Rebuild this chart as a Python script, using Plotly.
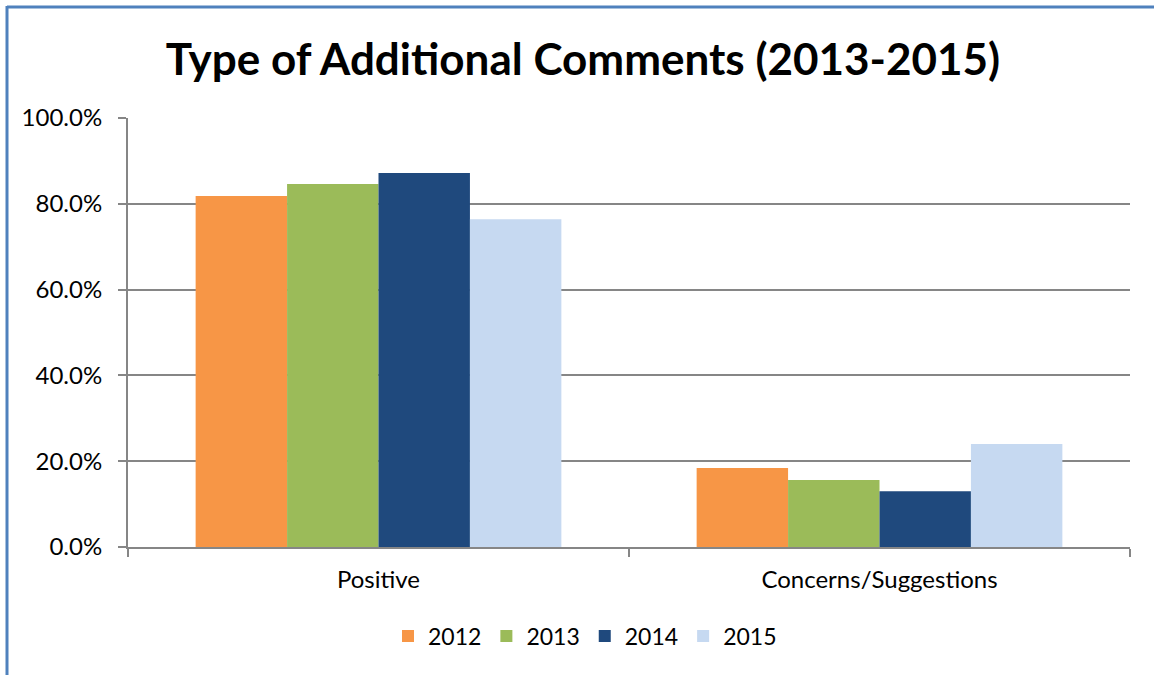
import plotly.graph_objects as go

categories = ["Positive", "Concerns/Suggestions"]
years = ["2012", "2013", "2014", "2015"]
values_2012 = [81.8, 18.4]
values_2013 = [84.6, 15.6]
values_2014 = [87.2, 13.0]
values_2015 = [76.4, 24.0]
y_ticks = [0, 20, 40, 60, 80, 100]
y_tick_labels = ["0.0%", "20.0%", "40.0%", "60.0%", "80.0%", "100.0%"]

series = [values_2012, values_2013, values_2014, values_2015]
colors = ["#F79646", "#9BBB59", "#1F497D", "#C6D9F1"]

W, H = 1154, 675
L, R, T, B = 128, 24, 118, 128
FONT = "Lato, 'Open Sans', sans-serif"

fig = go.Figure()
for name, vals, col in zip(years, series, colors):
    fig.add_trace(go.Bar(
        x=categories, y=vals, name=name,
        marker=dict(color=col, line=dict(width=0)),
        hoverinfo="x+y+name",
    ))

pw = W - L - R
ph = H - T - B
def px_x(p):
    return (p - L) / pw
def px_y(p):
    return (H - B - p) / ph

border = "#4F81BD"
shapes = [
    dict(type="line", xref="paper", yref="paper",
         x0=px_x(7), x1=px_x(W + 5), y0=px_y(7), y1=px_y(7),
         line=dict(color=border, width=3)),
    dict(type="line", xref="paper", yref="paper",
         x0=px_x(7), x1=px_x(7), y0=px_y(6), y1=px_y(H + 5),
         line=dict(color=border, width=3)),
]

fig.update_layout(
    width=W, height=H,
    margin=dict(l=L, r=R, t=T, b=B, autoexpand=False),
    paper_bgcolor="white", plot_bgcolor="white",
    font=dict(family=FONT, color="black", size=24),
    title=dict(text="<b>Type of Additional Comments (2013-2015)</b>",
               x=583 / W, xanchor="center", y=1 - 60 / H, yanchor="middle",
               font=dict(family=FONT, size=44, color="black")),
    barmode="group", bargap=0.27, bargroupgap=0,
    showlegend=True,
    legend=dict(orientation="h", x=px_x(585), xanchor="center",
                y=px_y(636), yanchor="middle",
                font=dict(size=23), itemwidth=30, traceorder="normal"),
    shapes=shapes,
    xaxis=dict(type="category", tickson="boundaries", ticks="outside",
               ticklen=8, tickcolor="#868686", tickwidth=2,
               showline=True, linecolor="#868686", linewidth=2,
               showgrid=False, tickfont=dict(size=24),
               ticklabelstandoff=10),
    yaxis=dict(range=[0, 100], tickvals=y_ticks, ticktext=y_tick_labels,
               ticks="outside", ticklen=8, tickcolor="#868686", tickwidth=2,
               showline=True, linecolor="#868686", linewidth=2,
               showgrid=True, gridcolor="#868686", gridwidth=2,
               zeroline=False, tickfont=dict(size=24),
               ticklabelstandoff=11),
)

fig.write_html("out.html")
